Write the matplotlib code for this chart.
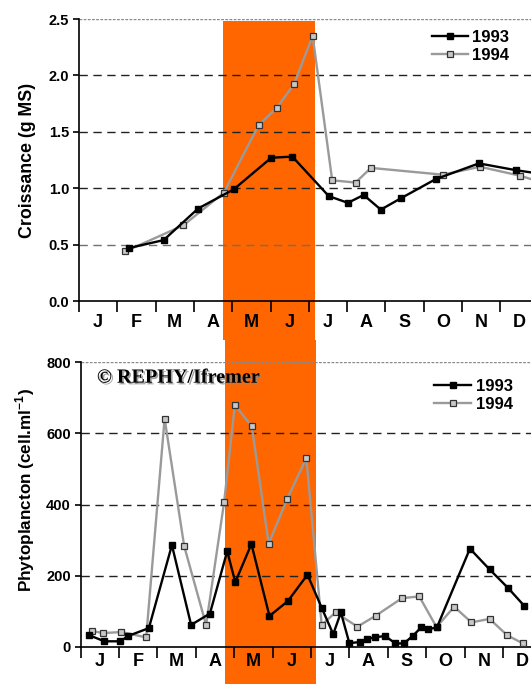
import numpy as np
import matplotlib
matplotlib.use('Agg')
import matplotlib.pyplot as plt
import matplotlib.patheffects as pe
from matplotlib.ticker import FixedLocator, NullFormatter, FixedFormatter

plt.rcParams['font.family'] = ['Liberation Sans', 'DejaVu Sans']
plt.rcParams['font.weight'] = 'bold'
plt.rcParams['mathtext.fontset'] = 'custom'
plt.rcParams['mathtext.bf'] = 'Liberation Sans:bold'
plt.rcParams['mathtext.rm'] = 'Liberation Sans:bold'

# mois (positions en fraction d'annee, 0 = debut janvier)
months = ['J', 'F', 'M', 'A', 'M', 'J', 'J', 'A', 'S', 'O', 'N', 'D']
band = (3.75, 6.15)  # periode surlignee (mai-juin)

# croissance (g MS)
croiss_1993_x = [1.31, 2.21, 3.11, 4.04, 5.02, 5.57, 6.52, 7.02, 7.43, 7.88, 8.40, 9.31, 10.44, 11.40, 12.0]
croiss_1993_y = [0.47, 0.54, 0.82, 0.99, 1.27, 1.28, 0.93, 0.87, 0.94, 0.81, 0.91, 1.08, 1.22, 1.16, 1.13]
croiss_1994_x = [1.21, 2.72, 3.78, 4.69, 5.16, 5.61, 6.10, 6.61, 7.22, 7.62, 9.49, 10.47, 11.52, 12.0]
croiss_1994_y = [0.44, 0.67, 0.96, 1.56, 1.71, 1.92, 2.35, 1.07, 1.05, 1.18, 1.12, 1.19, 1.11, 1.06]

# phytoplancton (cell/ml)
phyto_1993_x = [0.23, 0.62, 1.04, 1.24, 1.78, 2.38, 2.88, 3.37, 3.82, 4.03, 4.45, 4.92, 5.40, 5.91,
                6.28, 6.58, 6.78, 7.00, 7.29, 7.47, 7.66, 7.93, 8.20, 8.42, 8.66, 8.87, 9.06, 9.28,
                10.14, 10.65, 11.13, 11.55]
phyto_1993_y = [33, 16, 16, 31, 53, 286, 62, 94, 269, 182, 289, 87, 129, 203,
                110, 36, 97, 11, 14, 23, 27, 31, 10, 10, 32, 55, 50, 55,
                276, 218, 166, 116]
phyto_1994_x = [0.30, 0.59, 1.06, 1.71, 2.19, 2.70, 3.27, 3.74, 4.02, 4.46, 4.90, 5.38, 5.88,
                6.28, 6.64, 7.21, 7.69, 8.37, 8.82, 9.27, 9.73, 10.18, 10.65, 11.11, 11.52]
phyto_1994_y = [45, 39, 42, 27, 641, 283, 62, 407, 680, 619, 290, 415, 530,
                62, 97, 57, 88, 137, 142, 56, 113, 69, 79, 33, 10]

ORANGE = '#FF6600'
GREY_LINE = '#9A9A9A'
GREY_FACE = '#C8C8C8'

fig = plt.figure(figsize=(5.31, 6.84), dpi=100)
ax1 = fig.add_axes([79 / 531, 1 - 301 / 684, 452 / 531, 282 / 684])
ax2 = fig.add_axes([80.5 / 531, 1 - 647 / 684, 450.5 / 531, 285 / 684])


def style_axis(ax, xmax, yticks, ymax, fmt, lbl_pad):
    ax.set_xlim(0, xmax)
    ax.set_ylim(0, ymax)
    for s in ['top', 'right']:
        ax.spines[s].set_visible(False)
    ax.spines['left'].set_linewidth(1.2)
    ax.spines['bottom'].set_linewidth(1.2)
    ax.xaxis.set_major_locator(FixedLocator(np.arange(0, 12)))
    ax.xaxis.set_major_formatter(NullFormatter())
    ax.xaxis.set_minor_locator(FixedLocator(np.arange(12) + 0.5))
    ax.xaxis.set_minor_formatter(FixedFormatter(months))
    ax.tick_params(axis='x', which='major', direction='out', length=8, width=1.2)
    ax.tick_params(axis='x', which='minor', length=0, pad=lbl_pad, labelsize=13)
    ax.set_yticks(yticks)
    ax.set_yticklabels([fmt % v for v in yticks])
    ax.tick_params(axis='y', direction='out', length=4, width=1.2, pad=3, labelsize=10.5)
    for i, v in enumerate(yticks[1:]):
        if v == yticks[-1]:
            c, ls = '#8A8A8A', (0, (2, 1))
        elif i == 0 and ymax < 10:
            c, ls = '#707070', (0, (6, 4))
        else:
            c, ls = '#222222', (0, (6, 4))
        ax.axhline(v, color=c, lw=1.0, ls=ls, zorder=1.5)


style_axis(ax1, 11.80, [0.0, 0.5, 1.0, 1.5, 2.0, 2.5], 2.5, '%.1f', 9)
style_axis(ax2, 11.73, [0, 200, 400, 600, 800], 800, '%d', 4)

# bande orange debordant sous l'axe des mois
ax1.axvspan(band[0], band[1], ymin=-0.138, ymax=0.993, color=ORANGE, clip_on=False, zorder=0.5, lw=0)
ax2.axvspan(band[0] + 0.01, band[1] - 0.02, ymin=-0.13, ymax=1.077, color=ORANGE, clip_on=False, zorder=0.5, lw=0)

for ax, x93, y93, x94, y94 in [(ax1, croiss_1993_x, croiss_1993_y, croiss_1994_x, croiss_1994_y),
                               (ax2, phyto_1993_x, phyto_1993_y, phyto_1994_x, phyto_1994_y)]:
    ax.plot(x93, y93, color='black', lw=1.7, marker='s', ms=4.8,
            mfc='black', mec='black', label='1993', zorder=4)
    ax.plot(x94, y94, color=GREY_LINE, lw=1.7, marker='s', ms=4.8,
            mfc=GREY_FACE, mec='#333333', mew=0.9, label='1994', zorder=3)

leg1 = ax1.legend(loc='upper right', bbox_to_anchor=(0.965, 0.985), frameon=False,
                  fontsize=12, handlelength=2.2, handletextpad=0.2, labelspacing=0.2,
                  borderaxespad=0)
leg2 = ax2.legend(loc='upper right', bbox_to_anchor=(0.975, 0.965), frameon=False,
                  fontsize=12, handlelength=2.2, handletextpad=0.3, labelspacing=0.2,
                  borderaxespad=0)
for leg in (leg1, leg2):
    for t in leg.get_texts():
        t.set_fontweight('bold')

fig.text(28 / 531, 1 - 160 / 684, 'Croissance (g MS)', rotation=90, ha='center', va='center',
         fontsize=12.8, fontweight='bold')
fig.text(25 / 531, 1 - 490 / 684, r'Phytoplancton (cell.ml$^{\mathbf{-1}}$)', rotation=90,
         ha='center', va='center', fontsize=12.3, fontweight='bold')

ax2.text(0.217, 0.945, '\u00a9 REPHY/Ifremer', transform=ax2.transAxes, ha='center', va='center',
         fontsize=14.5, fontweight='bold', family=['Liberation Serif', 'DejaVu Serif'], zorder=6,
         path_effects=[pe.withSimplePatchShadow(offset=(1.2, -1.2), shadow_rgbFace='#888888', alpha=0.8)])

fig.savefig('out.png', dpi=100)
